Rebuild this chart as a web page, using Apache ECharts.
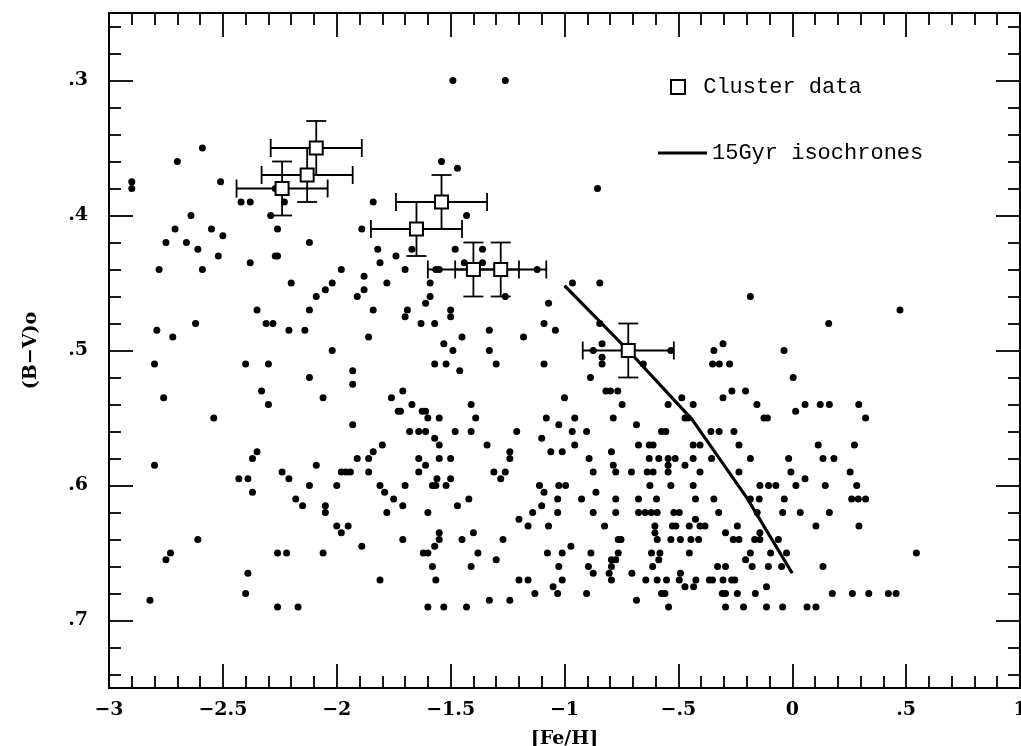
<!DOCTYPE html>
<html><head><meta charset="utf-8">
<script src="https://cdn.jsdelivr.net/npm/echarts@6/dist/echarts.min.js"></script>
<style>html,body{margin:0;padding:0;background:#fff}#c{width:1021px;height:746px}</style>
</head><body><div id="c"></div>
<script>
// Field stars: [ [Fe/H], (B-V)o ]
const fieldStars = [
[-2.90,.375],[-2.90,.38],[-2.70,.36],[-2.59,.35],[-2.51,.375],[-2.42,.39],[-2.38,.39],[-2.27,.38],[-2.23,.39],[-2.29,.40],[-2.64,.40],
[-2.71,.41],[-2.55,.41],[-2.26,.41],[-2.50,.415],[-2.75,.42],[-2.66,.42],[-2.12,.42],[-2.61,.425],[-2.52,.43],[-2.27,.43],[-2.26,.43],
[-2.38,.435],[-2.78,.44],[-2.59,.44],[-1.98,.44],[-2.20,.45],[-2.02,.45],[-2.05,.455],[-2.09,.46],[-2.35,.47],[-2.12,.47],
[-2.62,.48],[-2.31,.48],[-2.28,.48],[-2.79,.485],[-2.21,.485],[-2.14,.485],[-2.72,.49],[-2.80,.51],[-2.40,.51],[-2.30,.51],
[-2.12,.52],[-2.33,.53],[-2.76,.535],[-2.06,.535],[-2.30,.54],[-2.54,.55],[-2.35,.575],[-2.37,.58],[-2.80,.585],[-2.09,.585],
[-2.24,.59],[-2.43,.595],[-2.39,.595],[-2.21,.595],[-2.12,.60],[-2.37,.605],[-2.18,.61],[-2.15,.615],[-2.05,.615],
[-2.05,.62],[-2.61,.64],[-2.75,.655],[-2.73,.65],[-2.26,.65],[-2.22,.65],[-2.06,.65],[-2.39,.665],[-2.40,.68],[-2.82,.685],[-2.26,.69],[-2.17,.69],
[-1.49,.30],[-1.26,.30],[-1.54,.36],[-1.47,.365],[-0.855,.38],[-1.84,.39],[-1.43,.40],[-1.89,.41],[-1.82,.425],[-1.67,.425],[-1.48,.425],[-1.36,.425],
[-1.74,.43],[-1.81,.435],[-1.70,.44],[-1.565,.44],[-1.55,.44],[-1.44,.435],[-1.36,.435],[-1.12,.44],[-1.88,.445],[-1.78,.45],[-1.59,.45],
[-1.88,.455],[-1.91,.46],[-1.59,.46],[-1.26,.46],[-1.61,.465],[-1.07,.465],[-1.84,.47],[-1.69,.47],[-1.50,.47],[-1.70,.475],[-1.50,.475],
[-1.63,.48],[-1.57,.48],[-1.09,.48],[-1.04,.485],[-1.33,.485],[-1.86,.49],[-1.45,.49],[-1.18,.49],[-1.53,.495],
[-2.02,.50],[-1.49,.50],[-1.33,.50],[-1.57,.51],[-1.52,.51],[-1.30,.51],[-1.09,.51],[-1.93,.515],[-1.46,.515],[-1.93,.525],[-1.71,.53],
[-1.76,.535],[-1.00,.535],[-1.67,.54],[-1.41,.54],[-1.73,.545],[-1.72,.545],[-1.625,.545],[-1.61,.545],
[-1.60,.55],[-1.55,.55],[-1.39,.55],[-1.08,.55],[-1.93,.555],[-1.025,.555],
[-1.68,.56],[-1.64,.56],[-1.61,.56],[-1.48,.56],[-1.41,.56],[-1.21,.56],[-1.57,.565],[-1.10,.565],[-1.80,.57],[-1.55,.57],[-1.34,.57],
[-1.84,.575],[-1.24,.575],[-1.06,.575],[-1.01,.575],[-1.91,.58],[-1.86,.58],[-1.64,.58],[-1.55,.58],[-1.50,.58],[-1.24,.58],[-1.61,.585],
[-1.98,.59],[-1.96,.59],[-1.94,.59],[-1.86,.59],[-1.64,.59],[-1.31,.59],[-1.26,.59],[-1.56,.595],[-1.50,.595],[-1.28,.595],
[-2.00,.60],[-1.81,.60],[-1.70,.60],[-1.58,.60],[-1.565,.60],[-1.52,.60],[-1.11,.60],[-1.025,.60],[-0.995,.60],
[-1.79,.605],[-1.09,.605],[-1.75,.61],[-1.42,.61],[-1.03,.61],[-1.71,.615],[-1.47,.615],[-1.10,.615],
[-1.78,.62],[-1.60,.62],[-1.14,.62],[-1.03,.62],[-1.20,.625],[-2.00,.63],[-1.95,.63],[-1.16,.63],[-1.07,.63],
[-1.98,.635],[-1.55,.635],[-1.40,.635],[-1.71,.64],[-1.55,.64],[-1.45,.64],[-1.27,.64],[-1.89,.645],[-1.57,.645],
[-1.62,.65],[-1.60,.65],[-1.38,.65],[-1.075,.65],[-1.01,.65],[-1.30,.655],[-1.58,.66],[-1.41,.66],[-1.025,.66],
[-1.81,.67],[-1.565,.67],[-1.20,.67],[-1.16,.67],[-1.01,.67],[-1.05,.675],[-1.13,.68],[-1.03,.68],[-1.33,.685],[-1.24,.685],
[-1.60,.69],[-1.53,.69],[-1.43,.69],
[-0.965,.45],[-0.845,.45],[-0.184,.46],[-0.845,.48],[-0.835,.495],[-0.874,.50],[-0.533,.50],[-0.344,.50],[-0.036,.50],[-0.304,.495],
[-0.835,.505],[-0.835,.51],[-0.654,.51],[-0.35,.51],[-0.32,.51],[-0.275,.51],[0.004,.52],[-0.886,.52],
[-0.818,.53],[-0.798,.53],[-0.766,.53],[-0.265,.53],[-0.205,.53],[-0.485,.535],[-0.304,.535],
[-0.747,.54],[-0.545,.54],[-0.435,.54],[-0.155,.54],[0.015,.545],
[-0.955,.55],[-0.786,.55],[-0.471,.55],[-0.457,.55],[-0.124,.55],[-0.109,.55],[-0.684,.555],
[-0.966,.56],[-0.903,.56],[-0.574,.56],[-0.555,.56],[-0.357,.56],[-0.321,.56],[-0.256,.56],
[-0.955,.57],[-0.675,.57],[-0.628,.57],[-0.611,.57],[-0.435,.57],[-0.405,.57],[-0.234,.57],[-0.794,.575],
[-0.892,.58],[-0.628,.58],[-0.586,.58],[-0.545,.58],[-0.514,.58],[-0.435,.58],[-0.354,.58],[-0.184,.58],[-0.016,.58],
[-0.786,.585],[-0.545,.585],[-0.471,.585],
[-0.874,.59],[-0.775,.59],[-0.706,.59],[-0.637,.59],[-0.611,.59],[-0.545,.59],[-0.405,.59],[-0.234,.59],[-0.006,.59],
[-0.625,.60],[-0.533,.60],[-0.435,.60],[-0.142,.60],[-0.104,.60],[-0.072,.60],[0.016,.60],[-0.862,.605],
[-0.925,.61],[-0.775,.61],[-0.675,.61],[-0.596,.61],[-0.425,.61],[-0.344,.61],[-0.184,.61],[-0.145,.61],[-0.035,.61],
[-0.874,.62],[-0.775,.62],[-0.675,.62],[-0.646,.62],[-0.619,.62],[-0.593,.62],[-0.52,.62],[-0.496,.62],[-0.323,.62],[-0.154,.62],[-0.042,.62],
[-0.425,.625],[-0.824,.63],[-0.603,.63],[-0.526,.63],[-0.511,.63],[-0.452,.63],[-0.405,.63],[-0.383,.63],[-0.241,.63],
[-0.603,.635],[-0.293,.635],[-0.142,.635],
[-0.764,.64],[-0.752,.64],[-0.593,.64],[-0.533,.64],[-0.491,.64],[-0.445,.64],[-0.411,.64],[-0.259,.64],[-0.234,.64],[-0.165,.64],[-0.142,.64],[-0.061,.64],
[-0.972,.645],[-0.884,.65],[-0.764,.65],[-0.618,.65],[-0.581,.65],[-0.452,.65],[-0.184,.65],[-0.095,.65],[-0.025,.65],
[-0.794,.655],[-0.775,.655],[-0.586,.655],[-0.205,.655],
[-0.895,.66],[-0.794,.66],[-0.613,.66],[-0.328,.66],[-0.293,.66],[-0.176,.66],[-0.105,.66],[-0.047,.66],
[-0.874,.665],[-0.804,.665],[-0.704,.665],[-0.491,.665],
[-0.794,.67],[-0.643,.67],[-0.593,.67],[-0.552,.67],[-0.496,.67],[-0.423,.67],[-0.364,.67],[-0.35,.67],[-0.304,.67],[-0.266,.67],[-0.252,.67],
[-0.471,.675],[-0.433,.675],[-0.113,.675],
[-0.903,.68],[-0.574,.68],[-0.559,.68],[-0.307,.68],[-0.293,.68],[-0.241,.68],[-0.162,.68],[-0.684,.685],
[-0.543,.69],[-0.293,.69],[-0.214,.69],[-0.113,.69],[-0.042,.69],
[0.056,.54],[0.123,.54],[0.163,.54],[0.292,.54],[0.322,.55],[0.114,.57],[0.273,.57],[0.135,.58],[0.183,.58],[0.254,.59],[0.056,.595],
[0.145,.60],[0.283,.60],[0.261,.61],[0.29,.61],[0.322,.61],
[0.035,.62],[0.163,.62],[0.104,.63],[0.293,.63],[0.545,.65],[0.135,.66],[0.176,.68],[0.264,.68],[0.336,.68],[0.422,.68],[0.456,.68],[0.065,.69],[0.104,.69],
[0.473,.47],[0.16,.48]
];

// Cluster data
const clusterFeH    = [-2.24, -2.13, -2.09, -1.65, -1.54, -1.40, -1.28, -0.72];
const clusterBV     = [ .38,   .37,   .35,   .41,   .39,   .44,   .44,   .50 ];
const clusterFeHErr = [ .2,    .2,    .2,    .2,    .2,    .2,    .2,    .2  ];
const clusterBVErr  = [ .02,   .02,   .02,   .02,   .02,   .02,   .02,   .02 ];

// 15 Gyr isochrone
const isoFeH = [-1.0, -0.72, -0.44, -0.20, 0.0];
const isoBV  = [ .452, .50,   .551,  .609, .665];

// Axis ticks
const yMajorTicks = [.3, .4, .5, .6, .7];
const yMinorTicks = [.26,.28,.32,.34,.36,.38,.42,.44,.46,.48,.52,.54,.56,.58,.62,.64,.66,.68,.72,.74];

function fmt(v){
  const a = Math.abs(v);
  let s = String(+a.toFixed(2));
  if (s.indexOf('0.') === 0) s = s.slice(1);
  return (v < 0 ? '\u2212' : '') + s;
}

const FONT = 'DejaVu Serif';
const MONO = 'Liberation Mono';
const lineSt = {color:'#000', width:2};
const tickSt = {color:'#000', width:1.8};

function xAx(pos, labels){
  return {
    type:'value', min:-3, max:1, interval:0.5, position:pos, gridIndex:0,
    axisLine:{show:true, onZero:false, lineStyle:lineSt},
    axisTick:{show:true, inside:true, length:24, lineStyle:tickSt},
    minorTick:{show:true, splitNumber:5, length:12, lineStyle:tickSt},
    splitLine:{show:false}, minorSplitLine:{show:false},
    axisLabel:{show:labels, formatter:fmt, margin:13, fontFamily:FONT, fontSize:19, fontWeight:'bold', color:'#000', hideOverlap:false},
    name: labels ? '[Fe/H]' : '', nameLocation:'middle', nameGap:42,
    nameTextStyle:{fontFamily:FONT, fontSize:19, fontWeight:'bold', color:'#000'}
  };
}
function yAx(pos, ticks, len, labels, line){
  return {
    type:'value', min:.25, max:.75, inverse:true, position:pos, gridIndex:0,
    axisLine:{show:line, onZero:false, lineStyle:lineSt},
    axisTick:{show:true, inside:true, length:len, customValues:ticks, lineStyle:tickSt},
    splitLine:{show:false},
    axisLabel:{show:labels, customValues:ticks, formatter:fmt, margin:21, fontFamily:FONT, fontSize:19, fontWeight:'bold', color:'#000'},
    name: labels ? '(B\u2212V)o' : '', nameLocation:'middle', nameGap:68, nameRotate:90,
    nameTextStyle:{fontFamily:FONT, fontSize:19, fontWeight:'bold', color:'#000'}
  };
}

const chart = echarts.init(document.getElementById('c'), null, {renderer:'canvas'});
chart.setOption({
  animation:false,
  backgroundColor:'#fff',
  grid:{left:109, right:1, top:13, bottom:58, containLabel:false, outerBoundsMode:'none'},
  xAxis:[xAx('bottom', true), xAx('top', false)],
  yAxis:[
    yAx('left', yMajorTicks, 24, true, true),
    yAx('left', yMinorTicks, 12, false, false),
    yAx('right', yMajorTicks, 24, false, true),
    yAx('right', yMinorTicks, 12, false, false)
  ],
  legend:[
    {data:[{name:'Cluster data', icon:'rect'}], left:665, top:70, itemWidth:14, itemHeight:14,
     formatter:' {name}',
     itemStyle:{color:'#fff', borderColor:'#000', borderWidth:2, opacity:1},
     textStyle:{fontFamily:MONO, fontSize:22, color:'#000', lineHeight:24}},
    {data:[{name:'15Gyr isochrones', icon:'rect'}], left:653, top:136, itemWidth:49, itemHeight:3,
     itemStyle:{color:'#000', borderWidth:0, opacity:1},
     textStyle:{fontFamily:MONO, fontSize:22, color:'#000', lineHeight:24}}
  ],
  series:[
    {type:'scatter', name:'field', data:fieldStars, symbol:'circle', symbolSize:7,
     itemStyle:{color:'#000', opacity:1}, z:2, silent:true},
    {type:'line', name:'15Gyr isochrones', data:isoFeH.map((x,i)=>[x, isoBV[i]]),
     symbol:'none', showSymbol:false, color:'#000', lineStyle:{color:'#000', width:3.2, opacity:1}, z:3, silent:true},
    {type:'custom', name:'errbars', silent:true, z:4,
     data: clusterFeH.map((x,i)=>[x, clusterBV[i], clusterFeHErr[i], clusterBVErr[i]]),
     encode:{x:0, y:1},
     renderItem:function(params, api){
       const x=api.value(0), y=api.value(1), ex=api.value(2), ey=api.value(3);
       const l=api.coord([x-ex,y]), r=api.coord([x+ex,y]);
       const t=api.coord([x,y-ey]), b=api.coord([x,y+ey]);
       const hc=9, vc=10;
       const st={stroke:'#000', lineWidth:1.8};
       return {type:'group', children:[
         {type:'line', shape:{x1:l[0],y1:l[1],x2:r[0],y2:r[1]}, style:st},
         {type:'line', shape:{x1:l[0],y1:l[1]-hc,x2:l[0],y2:l[1]+hc}, style:st},
         {type:'line', shape:{x1:r[0],y1:r[1]-hc,x2:r[0],y2:r[1]+hc}, style:st},
         {type:'line', shape:{x1:t[0],y1:t[1],x2:b[0],y2:b[1]}, style:st},
         {type:'line', shape:{x1:t[0]-vc,y1:t[1],x2:t[0]+vc,y2:t[1]}, style:st},
         {type:'line', shape:{x1:b[0]-vc,y1:b[1],x2:b[0]+vc,y2:b[1]}, style:st}
       ]};
     }},
    {type:'scatter', name:'Cluster data', data: clusterFeH.map((x,i)=>[x, clusterBV[i]]),
     symbol:'rect', symbolSize:13, z:5, silent:true,
     itemStyle:{color:'#fff', borderColor:'#000', borderWidth:2, opacity:1}}
  ]
});
</script>
</body></html>
